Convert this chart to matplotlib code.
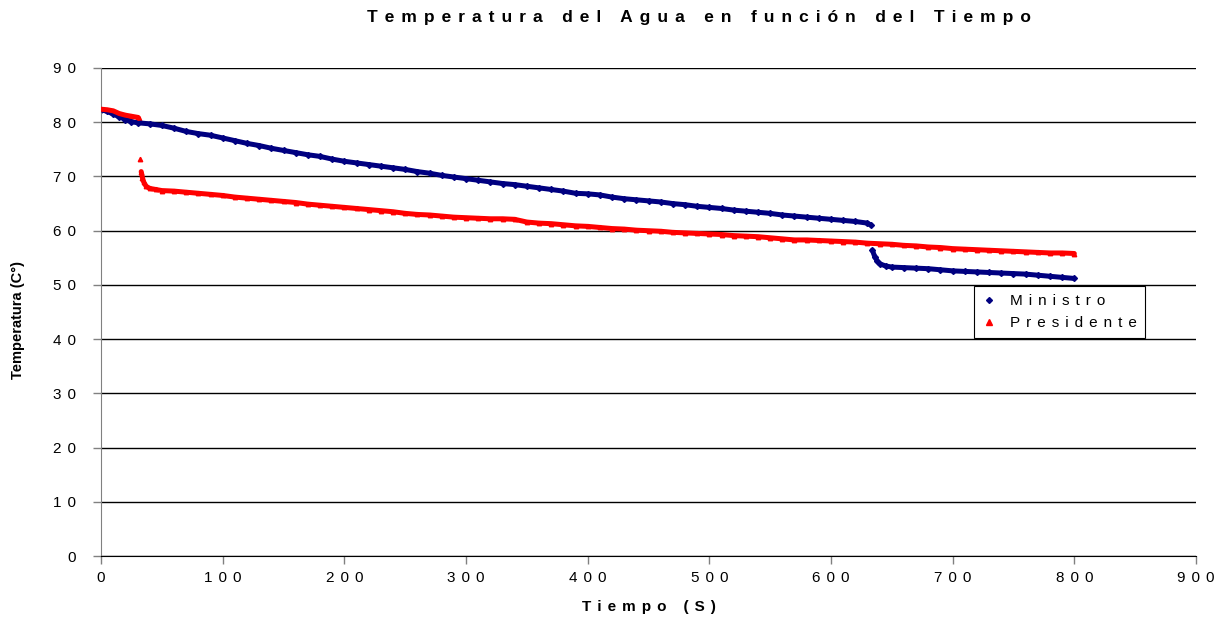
import numpy as np
import matplotlib
matplotlib.use("Agg")
import matplotlib.pyplot as plt

plt.rcParams['font.family'] = ['Liberation Sans', 'DejaVu Sans']

# Ministro (tiempo en s, temperatura en C)
t_ministro = [0, 5, 10, 15, 20, 25, 30, 40, 50, 60, 70, 80, 90, 100, 110, 120, 130, 140,
              150, 160, 170, 180, 190, 200, 210, 220, 230, 240, 250, 260, 270, 280, 290,
              300, 310, 320, 330, 340, 350, 360, 370, 380, 390, 400, 410, 420, 430, 440,
              450, 460, 470, 480, 490, 500, 510, 520, 530, 540, 550, 560, 570, 580, 590,
              600, 610, 620, 630, 633, 634, 636, 638, 640, 645, 650, 660, 670, 680, 690,
              700, 710, 720, 730, 740, 750, 760, 770, 780, 790, 800]
temp_ministro = [82.3, 82.0, 81.5, 81.0, 80.5, 80.1, 79.9, 79.7, 79.4, 78.9, 78.3, 77.9, 77.6,
                 77.1, 76.6, 76.1, 75.7, 75.2, 74.8, 74.4, 74.0, 73.7, 73.2, 72.8, 72.5, 72.2,
                 71.9, 71.6, 71.3, 70.9, 70.6, 70.2, 69.9, 69.6, 69.3, 69.0, 68.7, 68.5, 68.2,
                 67.9, 67.6, 67.3, 66.9, 66.8, 66.6, 66.2, 65.9, 65.7, 65.5, 65.3, 65.0, 64.8,
                 64.5, 64.3, 64.1, 63.8, 63.6, 63.4, 63.2, 62.9, 62.7, 62.5, 62.3, 62.1, 61.9,
                 61.7, 61.4, 61.0, 56.4, 55.2, 54.4, 53.9, 53.5, 53.3, 53.2, 53.1, 53.0, 52.8,
                 52.6, 52.5, 52.4, 52.3, 52.2, 52.1, 52.0, 51.8, 51.6, 51.4, 51.2]

# Presidente
t_presidente = [0, 5, 10, 15, 20, 25, 30, 31, 32, 33, 34, 35, 37, 40, 45, 50, 60, 70, 80, 90,
                100, 110, 120, 130, 140, 150, 160, 170, 180, 190, 200, 210, 220, 230, 240,
                250, 260, 270, 280, 290, 300, 310, 320, 330, 340, 350, 360, 370, 380, 390,
                400, 410, 420, 430, 440, 450, 460, 470, 480, 490, 500, 510, 520, 530, 540,
                550, 560, 570, 580, 590, 600, 610, 620, 630, 640, 650, 660, 670, 680, 690,
                700, 710, 720, 730, 740, 750, 760, 770, 780, 790, 800]
temp_presidente = [82.4, 82.3, 82.1, 81.6, 81.3, 81.1, 80.9, 80.7, 73.2, 70.9, 69.8, 69.0, 68.2,
                   67.8, 67.6, 67.4, 67.3, 67.1, 66.9, 66.7, 66.5, 66.2, 66.0, 65.8, 65.6, 65.4,
                   65.2, 64.9, 64.7, 64.5, 64.3, 64.1, 63.9, 63.7, 63.5, 63.2, 63.0, 62.9, 62.7,
                   62.5, 62.4, 62.3, 62.2, 62.2, 62.1, 61.6, 61.4, 61.3, 61.1, 60.9, 60.8, 60.6,
                   60.4, 60.3, 60.1, 60.0, 59.9, 59.7, 59.6, 59.5, 59.4, 59.3, 59.1, 59.0, 58.9,
                   58.7, 58.5, 58.3, 58.3, 58.2, 58.1, 58.0, 57.9, 57.7, 57.6, 57.5, 57.3, 57.2,
                   57.0, 56.9, 56.7, 56.6, 56.5, 56.4, 56.3, 56.2, 56.1, 56.0, 55.9, 55.9, 55.8]

y_ticks = list(range(0, 91, 10))
x_ticks = list(range(0, 901, 100))

SEP = '\u2009\u2009'  # espacio entre letras


def espaciar(texto, palabra='    '):
    # imita el espaciado de letras del grafico original
    return palabra.join(SEP.join(p) for p in texto.split(' '))


def cortar_saltos(t, v, salto=1.5):
    # corta la banda donde hay saltos grandes (puntos sueltos)
    tt, vv = [t[0]], [v[0]]
    for i in range(1, len(t)):
        if abs(v[i] - v[i - 1]) > salto:
            tt.append(np.nan)
            vv.append(np.nan)
        tt.append(t[i])
        vv.append(v[i])
    return tt, vv


fig = plt.figure(figsize=(12.19, 6.18), dpi=100)
ax = fig.add_axes([0.0829, 0.100, 0.8982, 0.790])

azul = '#000080'
rojo = '#FF0000'

tm, vm = cortar_saltos(t_ministro, temp_ministro)
tp, vp = cortar_saltos(t_presidente, temp_presidente)
ax.plot(tm, vm, color=azul, lw=3.6, solid_capstyle='round', zorder=3)
ax.plot(tp, vp, color=rojo, lw=3.6, solid_capstyle='round', zorder=3)
ax.plot(t_ministro, temp_ministro, 'D', color=azul, ms=3, lw=0, zorder=2.5)
ax.plot(t_presidente, temp_presidente, '^', color=rojo, ms=3.2, lw=0, zorder=2.5)

ax.set_xlim(0, 900)
ax.set_ylim(0, 90)
ax.set_yticks(y_ticks)
ax.set_yticklabels([SEP.join(str(v)) for v in y_ticks], fontsize=11)
ax.set_xticks(x_ticks)
ax.set_xticklabels([SEP.join(str(v)) for v in x_ticks], fontsize=11)
ax.tick_params(axis='both', direction='out', length=6, width=1, color='#808080')
ax.tick_params(axis='y', pad=12)
ax.tick_params(axis='x', pad=5)
ax.yaxis.grid(True, color='black', lw=1)
ax.set_axisbelow(True)
for s in ['top', 'right']:
    ax.spines[s].set_visible(False)
ax.spines['left'].set_color('#808080')
ax.spines['bottom'].set_color('black')

fig.text(0.532, 0.018, espaciar('Tiempo (S)'), fontsize=11, fontweight='bold',
         ha='center', va='center')
fig.text(0.015, 0.482, 'Temperatura (C°)', rotation=90, fontsize=10.5, fontweight='bold',
         ha='center', va='center')
fig.text(0.573, 0.972, espaciar('Temperatura del Agua en función del Tiempo', '    '),
         fontsize=12.5, fontweight='bold', ha='center', va='center')

h1, = ax.plot([], [], 'D', color=azul, ms=3)
h2, = ax.plot([], [], '^', color=rojo, ms=4)
leg = ax.legend([h1, h2], [espaciar('Ministro'), espaciar('Presidente')],
                loc='upper left', bbox_to_anchor=(0.797, 0.553), borderaxespad=0,
                frameon=True, fancybox=False, edgecolor='black', fontsize=11,
                handlelength=1, handletextpad=0.9, borderpad=0.5, labelspacing=0.55,
                framealpha=1)
leg.get_frame().set_linewidth(0.8)

fig.savefig('out.png', dpi=100)
